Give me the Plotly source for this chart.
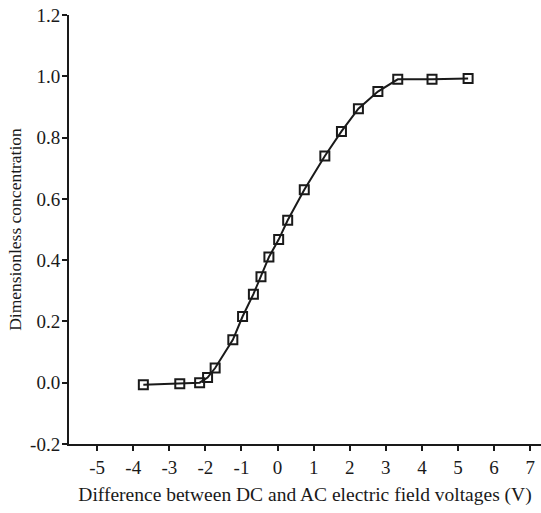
import plotly.graph_objects as go

voltage_diff = [-3.72, -2.71, -2.16, -1.94, -1.73, -1.24, -0.97, -0.67, -0.46, -0.24,
                0.03, 0.28, 0.74, 1.31, 1.77, 2.24, 2.78, 3.33, 4.28, 5.28]
concentration = [-0.007, -0.003, 0.0, 0.017, 0.048, 0.14, 0.216, 0.289, 0.346, 0.41,
                 0.467, 0.53, 0.63, 0.74, 0.82, 0.894, 0.95, 0.99, 0.99, 0.993]

x_tick_vals = [-5, -4, -3, -2, -1, 0, 1, 2, 3, 4, 5, 6, 7]
x_tick_text = ["-5", "-4", "-3", "-2", "-1", "0", "1", "2", "3", "4", "5", "6", "7"]
y_tick_vals = [-0.2, 0.0, 0.2, 0.4, 0.6, 0.8, 1.0, 1.2]
y_tick_text = ["-0.2", "0.0", "0.2", "0.4", "0.6", "0.8", "1.0", "1.2"]

font_family = "Liberation Serif"

fig = go.Figure()
fig.add_trace(go.Scatter(
    x=voltage_diff, y=concentration, mode="lines+markers",
    line=dict(color="#1a1a1a", width=2),
    marker=dict(symbol="square-open", size=9, color="#1a1a1a", line=dict(width=2)),
    showlegend=False,
))

fig.update_layout(
    template="none",
    width=541, height=513,
    margin=dict(l=69, r=0, t=15, b=69),
    paper_bgcolor="white", plot_bgcolor="white",
    font=dict(family=font_family, size=19, color="#1a1a1a"),
)
fig.update_xaxes(
    range=[-5.78, 7.3], showgrid=False, zeroline=False,
    showline=True, linecolor="#1a1a1a", linewidth=2,
    ticks="outside", ticklen=5, tickwidth=2, tickcolor="#1a1a1a",
    tickmode="array", tickvals=x_tick_vals, ticktext=x_tick_text,
    tickfont_family=font_family, tickfont_size=19, tickfont_color="#1a1a1a",
    title_text="Difference between DC and AC electric field voltages (V)",
    title_font=dict(family=font_family, size=19.5), title_standoff=11,
)
fig.update_yaxes(
    range=[-0.2, 1.2], showgrid=False, zeroline=False,
    showline=True, linecolor="#1a1a1a", linewidth=2,
    ticks="outside", ticklen=5, tickwidth=2, tickcolor="#1a1a1a",
    tickmode="array", tickvals=y_tick_vals, ticktext=y_tick_text,
    tickfont_family=font_family, tickfont_size=19, tickfont_color="#1a1a1a",
    ticklabelstandoff=-2,
    title_text="Dimensionless concentration",
    title_font=dict(family=font_family, size=17.5), title_standoff=4,
)

fig.write_html("out.html")
